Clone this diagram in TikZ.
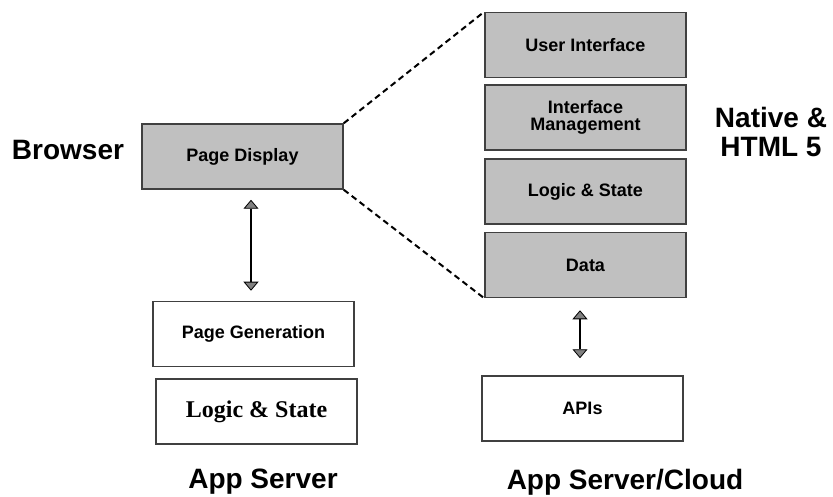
\documentclass[tikz,border=0pt]{standalone}
\usepackage{fontspec}
\setmainfont{Liberation Sans}
\newfontfamily\timesfont{Liberation Serif}
\usetikzlibrary{arrows.meta,positioning}
\definecolor{layergray}{RGB}{192,192,192}
\definecolor{edgegray}{RGB}{64,64,64}

\begin{document}
\begin{tikzpicture}[x=1pt,y=-1pt,
  layer/.style={draw=edgegray,line width=1.5pt,fill=layergray,minimum width=201pt,
    minimum height=65pt,inner sep=0pt,align=center,font=\bfseries\fontsize{18}{17}\selectfont},
  plain/.style={layer,fill=white},
  tag/.style={align=center,font=\bfseries\fontsize{28}{29}\selectfont},
  link/.style={line width=2pt,
    {Triangle[width=15pt,length=9pt,fill=gray,line width=0.8pt]}-{Triangle[width=15pt,length=9pt,fill=gray,line width=0.8pt]}},
  zoomline/.style={line width=2pt,dash pattern=on 6pt off 4pt}]
  \useasboundingbox (0,0) rectangle (833,497);

  %%%%%%%%%%%%%%%%Browser side%%%%%%%%%%%%%%
  \node[layer] (pagedisp) at (242.5,156.5) {Page Display};
  \node[tag] (browser) at (68,150) {Browser};
  \node[plain] (pagegen) at (253.5,334) {Page Generation};
  \node[plain,font=\timesfont\bfseries\fontsize{24}{26}\selectfont] (logicl) at (256.5,411.5) {Logic \& State};
  \node[tag] (appserver) at (263,482) {App Server};

  \draw[link,shorten <=10pt,shorten >=10pt] ([xshift=8.5pt]pagedisp.south) -- ([xshift=-2.5pt]pagegen.north);

  %%%%%%%%%%%%%%%%Native side%%%%%%%%%%%%%%
  \node[layer] (ui) at (585.5,45) {User Interface};
  \node[layer] (ifmgmt) at (585.5,117.5) {Interface\\Management};
  \node[layer] (logicr) at (585.5,191.5) {Logic \& State};
  \node[layer] (data) at (585.5,265) {Data};
  \node[plain] (apis) at (582.5,408.5) {APIs};
  \node[tag] (native) at (771,132) {Native \&\\HTML 5};
  \node[tag] (cloud) at (625,482) {App Server/Cloud};

  \draw[link,shorten <=12pt,shorten >=17pt] ([xshift=-5.5pt]data.south) -- ([xshift=-2.5pt]apis.north);

  \draw[zoomline] (pagedisp.north east) -- (ui.north west);
  \draw[zoomline] (pagedisp.south east) -- (data.south west);

\end{tikzpicture}
\end{document}
